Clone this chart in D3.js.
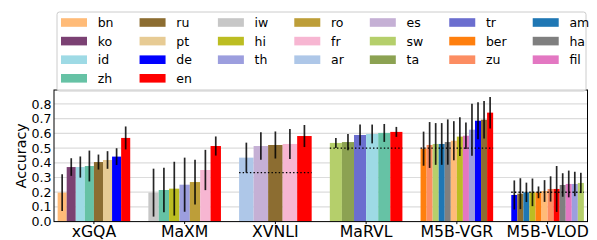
<!DOCTYPE html>
<html>
<head>
<meta charset="utf-8">
<script src="https://cdn.jsdelivr.net/npm/d3@7"></script>
<style>
  body { margin: 0; background: #fff; }
  text { font-family: 'DejaVu Sans', sans-serif; }
</style>
</head>
<body>
<div id="canvas"></div>
<script>
// datasets on the x axis
const datasets = ['xGQA', 'MaXM', 'XVNLI', 'MaRVL', 'M5B-VGR', 'M5B-VLOD']

// languages per dataset, in bar order
const xgqaLangs = ['bn', 'ko', 'id', 'zh', 'ru', 'pt', 'de', 'en']
const maxmLangs = ['iw', 'zh', 'hi', 'th', 'ro', 'fr', 'en']
const xvnliLangs = ['ar', 'es', 'ru', 'fr', 'en']
const marvlLangs = ['sw', 'ta', 'tr', 'id', 'zh', 'en']
const vgrLangs = ['ber', 'zu', 'sw', 'am', 'ha', 'bn', 'hi', 'fil', 'th', 'de', 'ru', 'en']
const vlodLangs = ['de', 'ru', 'am', 'hi', 'ber', 'bn', 'zu', 'en', 'ha', 'fil', 'th', 'sw']

// mean accuracy per bar
const xgqaAcc = [0.197, 0.371, 0.371, 0.378, 0.405, 0.419, 0.442, 0.569]
const maxmAcc = [0.197, 0.215, 0.224, 0.251, 0.269, 0.351, 0.514]
const xvnliAcc = [0.435, 0.514, 0.521, 0.528, 0.582]
const marvlAcc = [0.535, 0.541, 0.589, 0.596, 0.603, 0.610]
const vgrAcc = [0.496, 0.521, 0.528, 0.528, 0.541, 0.550, 0.578, 0.584, 0.625, 0.686, 0.693, 0.741]
const vlodAcc = [0.181, 0.190, 0.199, 0.199, 0.199, 0.208, 0.222, 0.222, 0.249, 0.256, 0.256, 0.263]

// error bar half-widths
const xgqaErr = [0.125, 0.060, 0.072, 0.105, 0.051, 0.060, 0.057, 0.078]
const maxmErr = [0.163, 0.151, 0.183, 0.184, 0.152, 0.137, 0.065]
const xvnliErr = [0.102, 0.094, 0.092, 0.102, 0.075]
const marvlErr = [0.034, 0.055, 0.071, 0.064, 0.061, 0.034]
const vgrErr = [0.116, 0.156, 0.142, 0.142, 0.154, 0.133, 0.132, 0.090, 0.177, 0.126, 0.127, 0.107]
const vlodErr = [0.099, 0.105, 0.066, 0.094, 0.040, 0.074, 0.086, 0.156, 0.080, 0.091, 0.083, 0.069]

// chance level per dataset (null = none)
const chance = [null, null, 0.333, 0.5, 0.5, 0.2]

const yTicks = [0.0, 0.1, 0.2, 0.3, 0.4, 0.5, 0.6, 0.7, 0.8]

// legend order (matplotlib fills column by column)
const legendLangs = ['bn', 'ko', 'id', 'zh', 'ru', 'pt', 'de', 'en', 'iw', 'hi', 'th',
  'ro', 'fr', 'ar', 'es', 'sw', 'ta', 'tr', 'ber', 'zu', 'am', 'ha', 'fil']
const legendCols = [4, 4, 3, 3, 3, 3, 3]

const langColor = {
  bn: '#ffbb78', ko: '#7b4173', id: '#9edae5', zh: '#66c2a5',
  ru: '#8c6d31', pt: '#e7cb94', de: '#0000ff', en: '#ff0000',
  iw: '#c7c7c7', hi: '#bcbd22', th: '#9c9ede', ro: '#bd9e39',
  fr: '#f7b6d2', ar: '#aec7e8', es: '#c5b0d5', sw: '#b5cf6b',
  ta: '#8ca252', tr: '#6b6ecf', ber: '#ff7f0e', zu: '#fc8d62',
  am: '#1f77b4', ha: '#7f7f7f', fil: '#e377c2'
}

const groups = [
  [xgqaLangs, xgqaAcc, xgqaErr],
  [maxmLangs, maxmAcc, maxmErr],
  [xvnliLangs, xvnliAcc, xvnliErr],
  [marvlLangs, marvlAcc, marvlErr],
  [vgrLangs, vgrAcc, vgrErr],
  [vlodLangs, vlodAcc, vlodErr]
].map((g, i) => ({ name: datasets[i], langs: g[0], acc: g[1], err: g[2], chance: chance[i], idx: i }))

const W = 597, H = 240
const plot = { left: 54, right: 587.5, top: 90, bottom: 221.6 }
const groupWidth = 0.8

const svg = d3.select('#canvas').append('svg')
  .attr('width', W).attr('height', H)

const x = d3.scaleLinear().domain([-0.44, 5.44]).range([plot.left, plot.right])
const y = d3.scaleLinear().domain([0, 0.895]).range([plot.bottom, plot.top])

// grid
svg.append('g').selectAll('line')
  .data(yTicks.slice(1))
  .enter().append('line')
  .attr('x1', plot.left).attr('x2', plot.right)
  .attr('y1', d => y(d)).attr('y2', d => y(d))
  .attr('stroke', '#dcdcdc').attr('stroke-width', 1.2)

// bars
groups.forEach(g => {
  const n = g.langs.length
  const bw = groupWidth / n
  const left = g.idx - groupWidth / 2
  const gg = svg.append('g')

  gg.selectAll('rect')
    .data(g.langs)
    .enter().append('rect')
    .attr('x', (d, j) => x(left + j * bw))
    .attr('width', x(bw) - x(0))
    .attr('y', (d, j) => y(g.acc[j]))
    .attr('height', (d, j) => y(0) - y(g.acc[j]))
    .attr('fill', d => langColor[d])

  gg.selectAll('line.err')
    .data(g.langs)
    .enter().append('line')
    .attr('class', 'err')
    .attr('x1', (d, j) => x(left + (j + 0.5) * bw))
    .attr('x2', (d, j) => x(left + (j + 0.5) * bw))
    .attr('y1', (d, j) => y(g.acc[j] - g.err[j]))
    .attr('y2', (d, j) => y(g.acc[j] + g.err[j]))
    .attr('stroke', '#000').attr('stroke-opacity', 0.85).attr('stroke-width', 1.7)

  if (g.chance !== null) {
    gg.append('line')
      .attr('x1', x(left)).attr('x2', x(left + groupWidth))
      .attr('y1', y(g.chance)).attr('y2', y(g.chance))
      .attr('stroke', '#000').attr('stroke-width', 1.4)
      .attr('stroke-dasharray', '1.4,2.2')
  }
})

// spines
svg.append('rect')
  .attr('x', plot.left).attr('y', plot.top)
  .attr('width', plot.right - plot.left).attr('height', plot.bottom - plot.top)
  .attr('fill', 'none').attr('stroke', '#000').attr('stroke-width', 1)

// y ticks
svg.append('g').selectAll('text')
  .data(yTicks)
  .enter().append('text')
  .attr('x', plot.left - 2.5)
  .attr('y', d => y(d))
  .attr('dy', '0.36em')
  .attr('text-anchor', 'end')
  .attr('font-size', '12.6px')
  .attr('fill', '#000')
  .text(d => d.toFixed(1))

// x ticks
svg.append('g').selectAll('line')
  .data(datasets)
  .enter().append('line')
  .attr('x1', (d, i) => x(i)).attr('x2', (d, i) => x(i))
  .attr('y1', plot.bottom).attr('y2', plot.bottom + 2.5)
  .attr('stroke', '#000').attr('stroke-width', 1)

svg.append('g').selectAll('text')
  .data(datasets)
  .enter().append('text')
  .attr('x', (d, i) => x(i))
  .attr('y', 236.5)
  .attr('text-anchor', 'middle')
  .attr('font-size', '15.7px')
  .attr('fill', '#000')
  .text(d => d)

svg.append('text')
  .attr('transform', `translate(26, ${(plot.top + plot.bottom) / 2}) rotate(-90)`)
  .attr('text-anchor', 'middle')
  .attr('font-size', '14.2px')
  .attr('fill', '#000')
  .text('Accuracy')

// legend
const leg = svg.append('g')
const legBox = leg.append('rect')
  .attr('x', 57).attr('y', 12).attr('width', 529).attr('height', 79)
  .attr('rx', 2.5)
  .attr('fill', '#fff').attr('fill-opacity', 0.8)
  .attr('stroke', '#cccccc').attr('stroke-width', 1)

const rowY = [22.5, 41.1, 59.7, 78.3]
const patchW = 26, patchH = 8.6, textPad = 10.7, colSpacing = 26
let colX = 61
let k = 0
legendCols.forEach(count => {
  let maxW = 0
  for (let r = 0; r < count; r++) {
    const lang = legendLangs[k++]
    leg.append('rect')
      .attr('x', colX).attr('y', rowY[r] - patchH / 2)
      .attr('width', patchW).attr('height', patchH)
      .attr('fill', langColor[lang])
    const t = leg.append('text')
      .attr('x', colX + patchW + textPad)
      .attr('y', rowY[r])
      .attr('dy', '0.36em')
      .attr('font-size', '12.5px')
      .attr('fill', '#000')
      .text(lang)
    maxW = Math.max(maxW, t.node().getComputedTextLength())
  }
  colX += patchW + textPad + maxW + colSpacing
})
</script>
</body>
</html>
